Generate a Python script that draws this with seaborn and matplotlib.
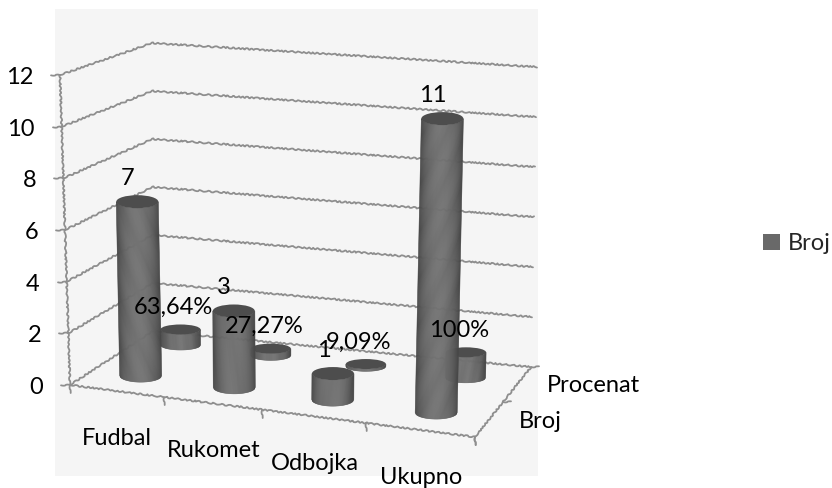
import numpy as np
import pandas as pd
import matplotlib
matplotlib.use("Agg")
import matplotlib.pyplot as plt
from matplotlib.patches import Rectangle, Ellipse, Patch
import seaborn as sns

categories = ["Fudbal", "Rukomet", "Odbojka", "Ukupno"]
series_names = ["Broj", "Procenat"]
broj_values = [7, 3, 1, 11]
procenat_values = [0.6364, 0.2727, 0.0909, 1.0]
broj_labels = ["7", "3", "1", "11"]
procenat_labels = ["63,64%", "27,27%", "9,09%", "100%"]
value_ticks = [0, 2, 4, 6, 8, 10, 12]

W, H = 832, 488
sns.set_theme(style="white")
plt.rcParams["font.family"] = ["Lato", "DejaVu Sans"]

fig = plt.figure(figsize=(W / 100, H / 100), dpi=100, facecolor="white")
ax = fig.add_axes([0, 0, 1, 1])
ax.set_xlim(0, W)
ax.set_ylim(H, 0)
ax.axis("off")
ax.add_patch(Rectangle((55, 9), 483, 467, fc="#f5f5f5", ec="none", zorder=0))

# Oblique 3-D view: corner pixels at value 0 and value 12
WALLS = {
    "fl0": (70, 385), "fl1": (60, 75),
    "fr0": (475, 437), "fr1": (483, 113),
    "bl0": (153, 331), "bl1": (152, 43),
    "br0": (531, 367), "br1": (537, 67),
}
COLS = {
    "fl0": (75, 385), "fl1": (65, 88),
    "fr0": (476, 437), "fr1": (486, 104),
    "bl0": (158, 325), "bl1": (157, 37),
    "br0": (531, 366), "br1": (537, 66),
}


def proj(c, d, v, corners=WALLS):
    """c: category position 0..4, d: depth position 0..2, v: value."""
    t = c / 4
    f = t * (0.9 + 0.1 * t)
    g = d / 2
    w = v / 12
    out = np.zeros(2)
    for a, wa in (("f", 1 - g), ("b", g)):
        for b, wb in (("l", 1 - f), ("r", f)):
            for e, we in (("0", 1 - w), ("1", w)):
                out += wa * wb * we * np.array(corners[a + b + e])
    return out


GRID = "#8e8e8e"
rows = []
lid = 0


def add_line(points):
    global lid
    for p in points:
        rows.append({"px": p[0], "py": p[1], "line": lid})
    lid += 1


for v in value_ticks:
    add_line([proj(0, 0, v), proj(0, 2, v), proj(4, 2, v)])
add_line([proj(0, 0, 0), proj(0, 0, 12)])
add_line([proj(0, 0, 0), proj(4, 0, 0), proj(4, 2, 0)])
for v in value_ticks:
    p = proj(0, 0, v)
    add_line([p, p + np.array([-9, 0])])
for c in range(5):
    p = proj(c, 0, 0)
    add_line([p, p + np.array([0, 8])])
for d in range(3):
    p = proj(4, d, 0)
    add_line([p, p + (np.array([0, 8]) if d == 0 else np.array([8, 0]))])

df = pd.DataFrame(rows)
sns.lineplot(data=df, x="px", y="py", units="line", estimator=None, sort=False,
             color=GRID, lw=1.3, ax=ax, legend=False, zorder=1)
for ln in ax.get_lines():
    ln.set_sketch_params(scale=0.7, length=7, randomness=3)
ax.set_xlim(0, W)
ax.set_ylim(H, 0)
ax.axis("off")

EDGE = np.array([0x44, 0x44, 0x44]) / 255
MID = np.array([0x72, 0x72, 0x72]) / 255
TOP = "#4d4d4d"


def cylinder(c, d, value, rx, ry, z):
    base = proj(c, d, 0, COLS)
    top = proj(c, d, value, COLS)
    n = 44
    us = np.linspace(-1, 1, n + 1)
    for u0, u1 in zip(us[:-1], us[1:]):
        um = (u0 + u1) / 2
        col = EDGE + (MID - EDGE) * (1 - um ** 2) ** 0.8
        xs0, xs1 = u0 * rx, u1 * rx
        yb0 = ry * np.sqrt(1 - u0 ** 2)
        yb1 = ry * np.sqrt(1 - u1 ** 2)
        ax.fill(
            [top[0] + xs0, top[0] + xs1, base[0] + xs1, base[0] + xs0],
            [top[1] + yb0, top[1] + yb1, base[1] + yb1, base[1] + yb0],
            color=col, lw=0.4, zorder=z,
        )
    ax.add_patch(Ellipse(top, 2 * rx, 2 * ry, fc=TOP, ec="none", zorder=z + 0.1))


for i, val in enumerate(procenat_values):
    cylinder(i + 0.5, 1.5, val, 20, 5, 2 + i * 0.2)
for i, val in enumerate(broj_values):
    cylinder(i + 0.5, 0.5, val, 21, 6.5, 3 + i * 0.2)

FS = 17
TK = "black"
for v in value_ticks:
    p = proj(0, 0, v)
    ax.text(p[0] - 27, p[1] + 2.5, str(v), ha="right", va="center", fontsize=FS, color=TK, zorder=6)
for i, cat in enumerate(categories):
    p = proj(i + 0.5, 0, 0)
    ax.text(p[0] + 1, p[1] + 54, cat, ha="center", va="baseline", fontsize=FS, color=TK, zorder=6)

for name, d in ((series_names[0], 0.5), (series_names[1], 1.5)):
    p = proj(4, d, 0)
    ax.text(p[0] + 30, p[1] + 1.5, name, ha="left", va="center", fontsize=FS, color=TK, zorder=6)

for i, lab in enumerate(broj_labels):
    p = proj(i + 0.5, 0.5, broj_values[i], COLS)
    ax.text(p[0] - 9.5, p[1] - 23, lab, ha="center", va="center", fontsize=FS, color=TK, zorder=6)
for i, lab in enumerate(procenat_labels):
    p = proj(i + 0.5, 1.5, procenat_values[i], COLS)
    ax.text(p[0] - 7, p[1] - 22, lab, ha="center", va="center", fontsize=FS, color=TK, zorder=6)

leg = ax.legend(
    handles=[Patch(fc="#696969", ec="none", label=series_names[0])],
    loc="center left", bbox_to_anchor=(763 / W, 1 - 244 / H), frameon=False,
    fontsize=FS, handlelength=0.72, handleheight=0.64, handletextpad=0.34,
    borderpad=0, borderaxespad=0,
)

fig.savefig("out.png", dpi=100, facecolor="white")
